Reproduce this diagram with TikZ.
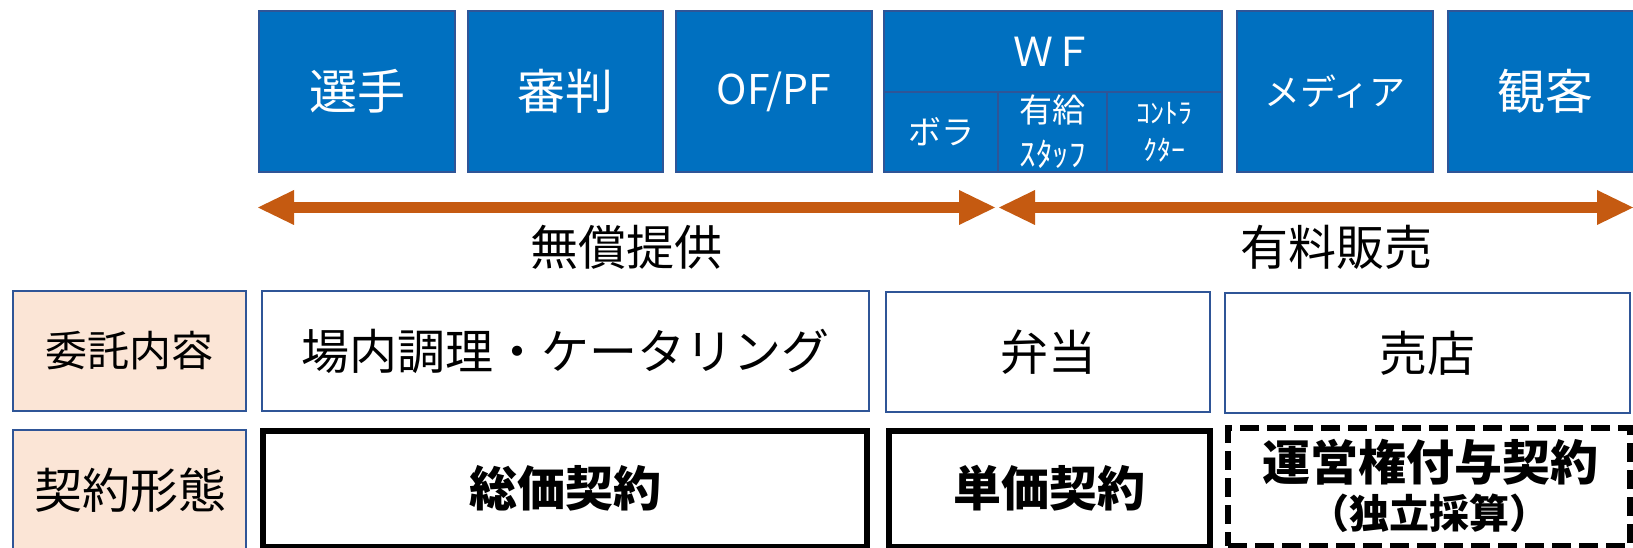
\documentclass[tikz,border=0pt]{standalone}
\usepackage{fontspec}
\setmainfont{Noto Sans CJK JP}
\usetikzlibrary{arrows.meta}
\definecolor{topblue}{HTML}{0070C0}
\definecolor{bordblue}{HTML}{2F5597}
\definecolor{peach}{HTML}{FBE5D6}
\definecolor{arroworange}{HTML}{C55A11}
\newcommand\fsz[1]{\fontsize{#1}{#1}\selectfont}
\tikzset{
  topbox/.style={draw=bordblue, line width=1.5pt, fill=topblue, text=white, inner sep=0pt},
  topfill/.style={fill=topblue, text=white, inner sep=0pt},
  topline/.style={draw=bordblue, line width=1.5pt},
  rowbox/.style={draw=bordblue, line width=2pt, fill=white, inner sep=0pt},
  labelbox/.style={rowbox, fill=peach},
  thickbox/.style={draw=black, line width=6pt, fill=white, inner sep=0pt},
  dashbox/.style={thickbox, dash pattern=on 19pt off 8pt},
  rangearrow/.style={draw=arroworange, line width=11pt,
    {Triangle[length=36pt,width=35pt,line width=0pt]}-{Triangle[length=36pt,width=35pt,line width=0pt]}},
  plain/.style={inner sep=0pt, align=center}
}
\begin{document}
\begin{tikzpicture}[x=1pt,y=-1pt]
\useasboundingbox (0,0) rectangle (1633,548);
\clip (0,0) rectangle (1633,548);
% top row
\node[topbox, minimum width=196pt, minimum height=161pt] (senshu) at (357,91.5) {\fsz{48}選手};
\node[topbox, minimum width=195pt, minimum height=161pt] (shinpan) at (565.5,91.5) {\fsz{48}審判};
\node[topbox, minimum width=196pt, minimum height=161pt] (ofpf) at (774,91.5) {\fsz{41}OF/PF};
\node[topfill, minimum width=338pt, minimum height=81pt] (wf) at (1053,51.5) {\fsz{40}ＷＦ};
\node[topfill, minimum width=114pt, minimum height=80pt] (bora) at (941,132) {\fsz{33}ボラ};
\node[topfill, minimum width=109pt, minimum height=80pt, align=center,
      font=\fontsize{33}{44}\selectfont] (staff) at (1052.5,132) {有給\\ｽﾀｯﾌ};
\node[topfill, minimum width=115pt, minimum height=80pt, align=center,
      font=\fontsize{28}{37}\selectfont] (contr) at (1164.5,132) {ｺﾝﾄﾗ\\ｸﾀｰ};
\draw[topline] (wf.north west) rectangle (wf.south east);
\draw[topline] (bora.north west) rectangle (bora.south east);
\draw[topline] (staff.north west) rectangle (staff.south east);
\draw[topline] (contr.north west) rectangle (contr.south east);
\node[topbox, minimum width=196pt, minimum height=161pt] (media) at (1335,91.5) {\fsz{36}メディア};
\node[topbox, minimum width=194pt, minimum height=161pt] (kankyaku) at (1545,91.5) {\fsz{48}観客};
% range arrows
\coordinate (a1l) at (258,207.5);
\coordinate (a1r) at (995,207.5);
\coordinate (a2l) at (999,207.5);
\coordinate (a2r) at (1633,207.5);
\draw[rangearrow] (a1l) -- (a1r);
\draw[rangearrow] (a2l) -- (a2r);
\node[plain] (muso) at (626,247) {\fsz{48}無償提供};
\node[plain] (yuryo) at (1336,247) {\fsz{48}有料販売};
% row 2
\node[labelbox, minimum width=233pt, minimum height=120pt] (itaku) at (129.5,351) {\fsz{42}委託内容};
\node[rowbox, minimum width=607pt, minimum height=120pt] (jonai) at (565.5,351) {\fsz{48}場内調理・ケータリング};
\node[rowbox, minimum width=324pt, minimum height=120pt] (bento) at (1048,352) {\fsz{48}弁当};
\node[rowbox, minimum width=405pt, minimum height=120pt] (baiten) at (1427.5,353) {\fsz{48}売店};
% row 3
\node[labelbox, minimum width=233pt, minimum height=130pt] (keiyaku) at (129.5,495) {};
\node[plain] at (130,490) {\fsz{48}契約形態};
\node[thickbox, minimum width=604pt, minimum height=116pt] (sokka) at (565,488.5) {\fsz{48}\bfseries 総価契約};
\node[thickbox, minimum width=321pt, minimum height=116pt] (tanka) at (1049.5,488.5) {\fsz{48}\bfseries 単価契約};
\node[dashbox, minimum width=402pt, minimum height=118pt] (unei) at (1429,487) {};
\node[plain] (uneit) at (1430,462) {\fsz{48}\bfseries 運営権付与契約};
\node[plain] (dokuritsu) at (1429,513) {\fsz{40}\bfseries （独立採算）};
\end{tikzpicture}
\end{document}
